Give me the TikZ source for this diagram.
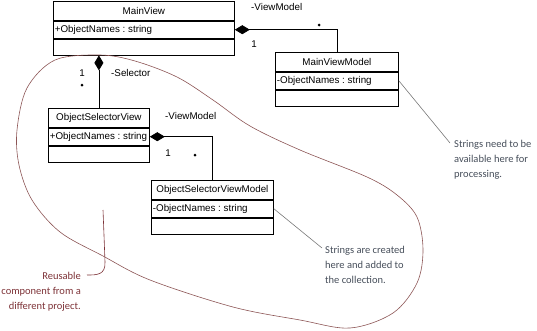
\documentclass[tikz,border=0pt]{standalone}
\usepackage{fontspec}
\setmainfont{Liberation Sans}
\newfontfamily\notefont{Carlito}
\usetikzlibrary{arrows.meta}
\definecolor{loopc}{RGB}{140,85,85}
\definecolor{redtxt}{RGB}{125,50,55}
\definecolor{notetxt}{RGB}{70,78,90}
\definecolor{noteline}{RGB}{120,120,120}
\frenchspacing
\newcommand\umlclass[6]{%
  \node[umltitle, minimum width=#4pt, anchor=north west] (#1t) at (#2,#3) {#5};
  \node[umlattr, minimum width=#4pt, anchor=north west] (#1a) at (#1t.south west) {\makebox[\dimexpr#4pt-3pt\relax][l]{#6}};
  \node[umloper, minimum width=#4pt, anchor=north west] (#1o) at (#1a.south west) {};
}
\begin{document}
\begin{tikzpicture}[x=1pt,y=-1pt,
  font=\fontsize{9.8}{11}\selectfont,
  umltitle/.style={draw, line width=0.8pt, inner sep=0pt, minimum height=19pt},
  umlattr/.style={draw, line width=0.8pt, inner xsep=1.5pt, inner ysep=0pt, minimum height=17pt},
  umloper/.style={draw, line width=0.8pt, inner sep=0pt, minimum height=16pt},
  comp/.style={line width=0.8pt, {Diamond[length=15pt,width=9pt]}-},
  lbl/.style={inner sep=0pt},
  dotmark/.style={fill, circle, inner sep=0pt, minimum size=3pt},
  notelink/.style={draw=noteline, line width=0.6pt},
  notetext/.style={font=\notefont\fontsize{10.5}{15}\selectfont, text=notetxt, align=left, inner sep=0pt},
  looppath/.style={draw=loopc, line width=0.6pt}
]
\useasboundingbox (0,0) rectangle (537,330);

\umlclass{mv}{53}{1}{181}{MainView}{+ObjectNames : string}
\umlclass{mvm}{275}{52}{123}{MainViewModel}{-ObjectNames : string}
\umlclass{osv}{48}{108}{101}{ObjectSelectorView}{+ObjectNames : string}
\umlclass{osvm}{151}{180}{122}{ObjectSelectorViewModel}{-ObjectNames : string}

% compositions
\draw[comp] (osvt.north |- mvo.south) -- (osvt.north);
\draw[comp] (mva.east) -| (mvmt.north);
\draw[comp] (osva.east) -| (osvmt.north);

% labels
\node[lbl, anchor=west] (l1) at (251,7) {-ViewModel};
\node[lbl] (l1n) at (254,44) {1};
\node[dotmark] (l1d) at (319,25) {};
\node[lbl, anchor=west] (l2) at (111,73) {-Selector};
\node[lbl] (l2n) at (82,73) {1};
\node[dotmark] (l2d) at (82,85) {};
\node[lbl, anchor=west] (l3) at (165,116) {-ViewModel};
\node[lbl] (l3n) at (168,153) {1};
\node[dotmark] (l3d) at (195,155) {};

% notes
\node[notetext, anchor=west] (n1) at (454,160) {Strings need to be\\available here for\\processing.};
\coordinate (n1p) at (450,143);
\draw[notelink] (mvma.east) -- (n1p);

\node[notetext, anchor=west] (n2) at (325,265) {Strings are created\\here and added to\\the collection.};
\coordinate (n2p) at (322,248);
\draw[notelink] (osvma.east) -- (n2p);

\node[notetext, anchor=east, align=right, text=redtxt] (n3) at (81,292) {Reusable\\component from a\\different project.};
\coordinate (b1) at (103,210);
\coordinate (b2) at (87,275);
\draw[draw=redtxt, line width=0.6pt] (b1) .. controls (104,235) .. (105,262) .. controls (105.5,275) and (97,275) .. (b2);

% boundary loop
\draw[looppath] plot[smooth cycle, tension=0.55] coordinates {
 (100,55) (55,60) (27,88) (17,130) (19,165) (32,200) (60,232) (103,256) (150,280)
 (233,307) (300,320) (350,328) (393,313) (417,283) (423,250) (417,217) (397,195)
 (367,177) (300,150) (250,126) (213,100) (177,77) (135,61)};
\end{tikzpicture}
\end{document}
